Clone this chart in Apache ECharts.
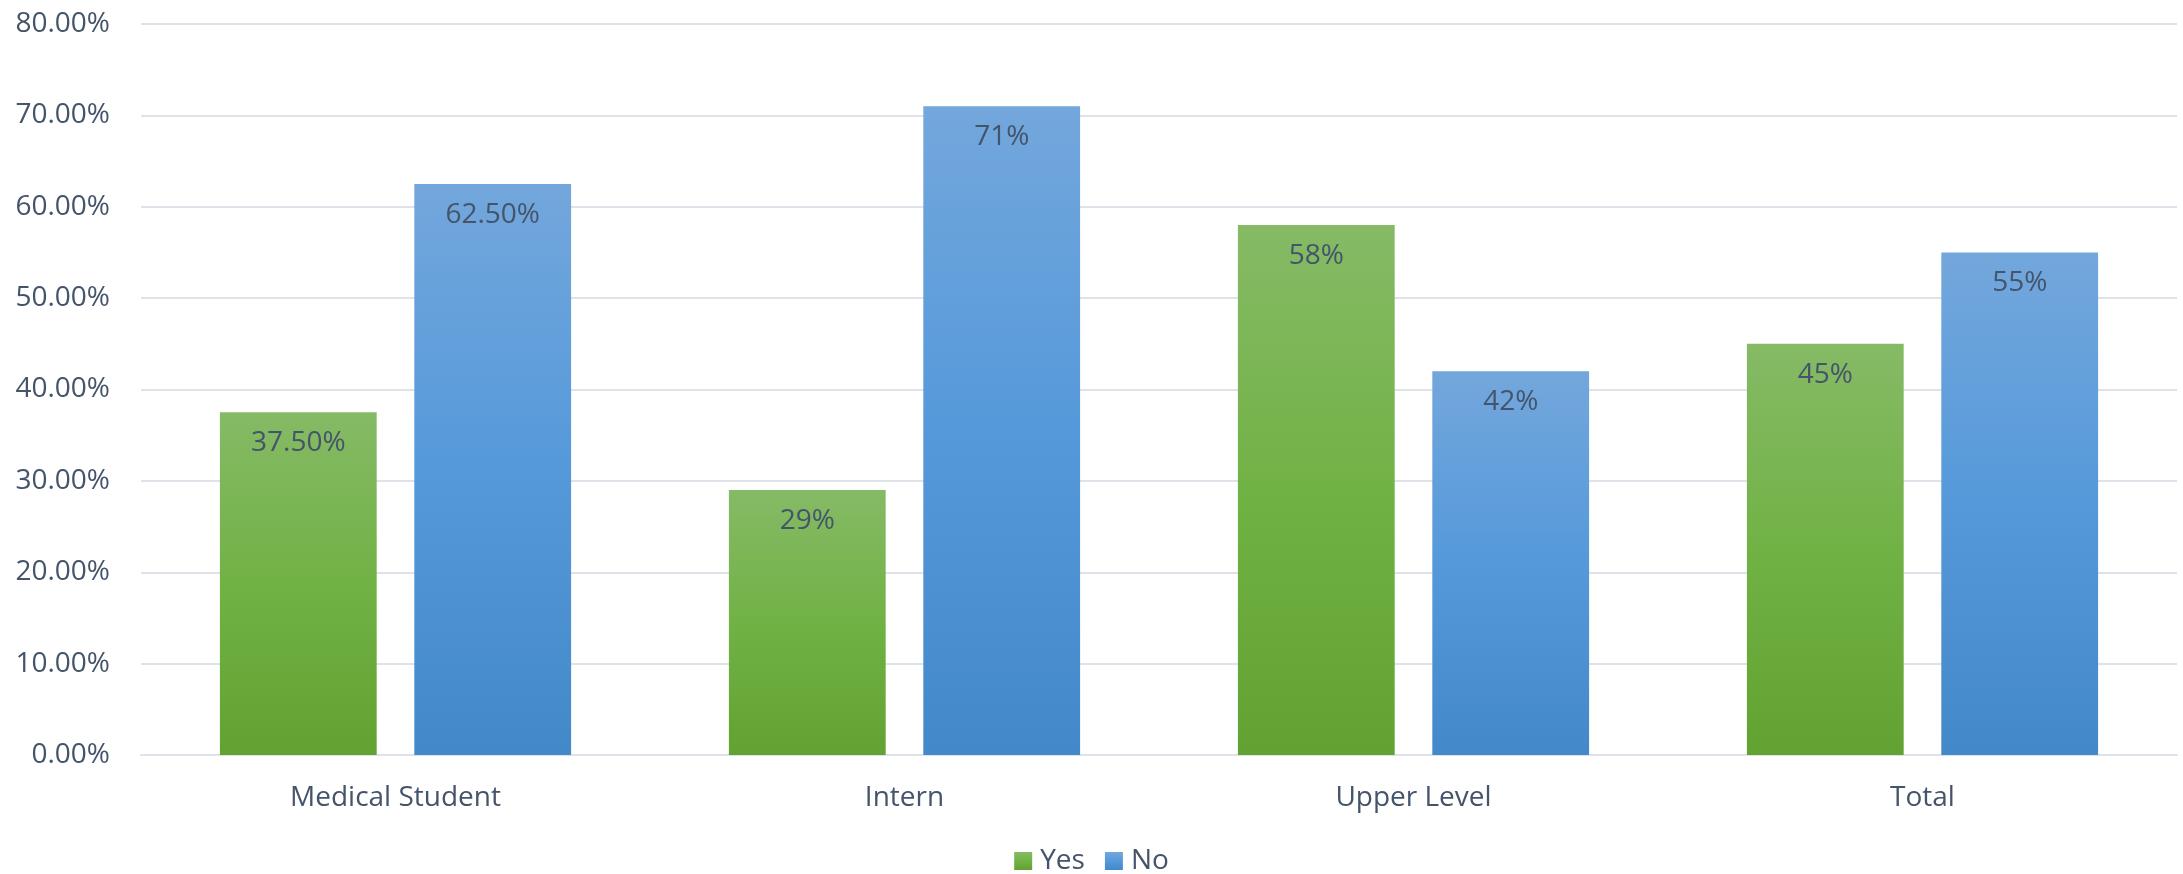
<!DOCTYPE html>
<html>
<head>
<meta charset="utf-8">
<script src="https://cdn.jsdelivr.net/npm/echarts@6/dist/echarts.min.js"></script>
<style>
  html, body { margin: 0; padding: 0; background: #ffffff; }
  #chart { width: 2183px; height: 874px; }
</style>
</head>
<body>
<div id="chart"></div>
<script>
// Survey responses by training level (percent)
const categories = ['Medical Student', 'Intern', 'Upper Level', 'Total'];
const yesValues = [37.5, 29, 58, 45];
const noValues = [62.5, 71, 42, 55];
const yesLabels = ['37.50%', '29%', '58%', '45%'];
const noLabels = ['62.50%', '71%', '42%', '55%'];
const yTicks = [0, 10, 20, 30, 40, 50, 60, 70, 80];

const textColor = '#44546A';
const gridColor = '#DEE2E9';
const fontFamily = '"Open Sans", "Noto Sans", sans-serif';
const fontSize = 28;

function vGradient(top, mid, bottom) {
  return new echarts.graphic.LinearGradient(0, 0, 0, 1, [
    { offset: 0, color: top },
    { offset: 0.5, color: mid },
    { offset: 1, color: bottom }
  ]);
}

const greenFill = vGradient('#86BA66', '#71B245', '#62A232');
const blueFill = vGradient('#73A7DC', '#5599DA', '#4388C8');

function labelStyle(texts) {
  return {
    show: true,
    position: 'insideTop',
    distance: 17,
    color: textColor,
    fontFamily: fontFamily,
    fontSize: fontSize,
    formatter: p => texts[p.dataIndex]
  };
}

const chart = echarts.init(document.getElementById('chart'), null, { renderer: 'canvas' });
chart.setOption({
  animation: false,
  backgroundColor: '#ffffff',
  grid: { left: 141, right: 6, top: 24, bottom: 119, containLabel: false },
  legend: {
    top: 842,
    left: 'center',
    itemWidth: 18,
    itemHeight: 18,
    itemGap: 20,
    icon: 'rect',
    textStyle: { color: textColor, fontFamily: fontFamily, fontSize: fontSize, padding: [0, 0, 0, 3] },
    data: ['Yes', 'No']
  },
  xAxis: {
    type: 'category',
    data: categories,
    axisLine: { show: true, lineStyle: { color: gridColor, width: 2 } },
    axisTick: { show: false },
    axisLabel: { color: textColor, fontFamily: fontFamily, fontSize: fontSize, margin: 29 }
  },
  yAxis: {
    type: 'value',
    min: yTicks[0],
    max: yTicks[yTicks.length - 1],
    interval: yTicks[1] - yTicks[0],
    axisLine: { show: false },
    axisTick: { show: false },
    splitLine: { lineStyle: { color: gridColor, width: 2 } },
    axisLabel: {
      color: textColor,
      fontFamily: fontFamily,
      fontSize: fontSize,
      margin: 31,
      formatter: v => v.toFixed(2) + '%'
    }
  },
  series: [
    {
      name: 'Yes',
      type: 'bar',
      data: yesValues,
      barGap: '24%',
      barCategoryGap: '31%',
      itemStyle: { color: greenFill },
      label: labelStyle(yesLabels)
    },
    {
      name: 'No',
      type: 'bar',
      data: noValues,
      barGap: '24%',
      barCategoryGap: '31%',
      itemStyle: { color: blueFill },
      label: labelStyle(noLabels)
    }
  ]
});
</script>
</body>
</html>
